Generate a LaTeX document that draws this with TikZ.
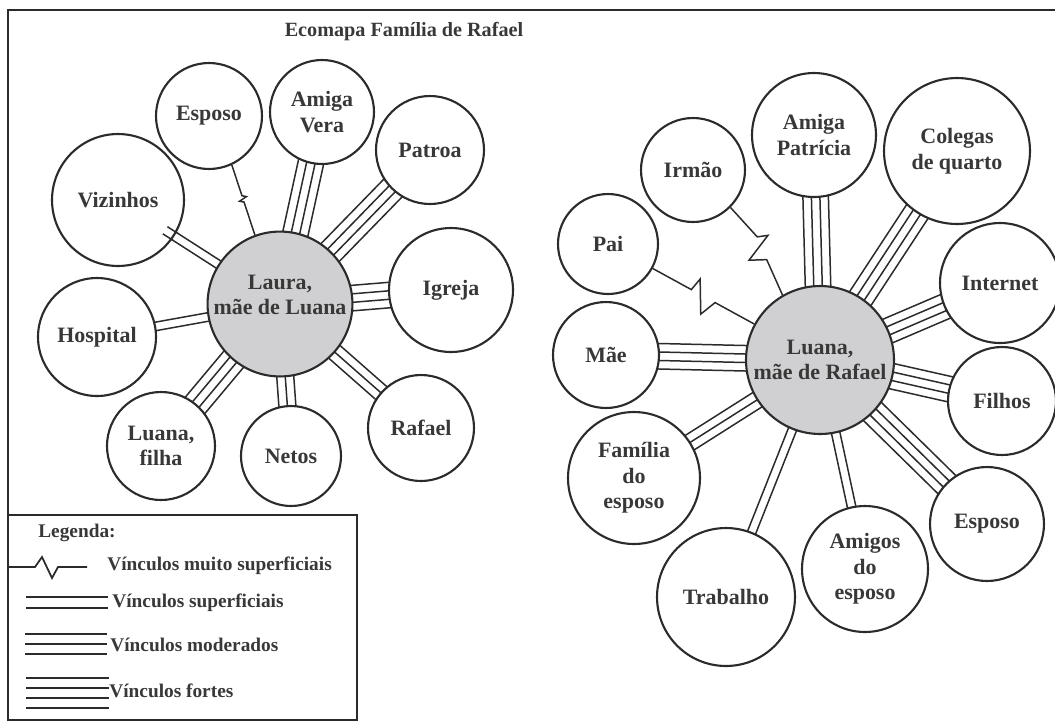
\documentclass[tikz,border=0pt]{standalone}
\usepackage{fontspec}
\setmainfont{Liberation Serif}
\usepackage{tikz}
\usetikzlibrary{calc}
\definecolor{ink}{HTML}{2B2B2B}
\definecolor{txt}{HTML}{383838}
\definecolor{hubgray}{HTML}{D0D0D2}
\newcommand{\satfont}{\fontsize{12.5}{14.5}\selectfont\bfseries}
\newcommand{\lgdfont}{\fontsize{11}{13}\selectfont\bfseries}
\pgfdeclarelayer{background}
\pgfsetlayers{background,main}
\tikzset{
  sat/.style={circle, draw=ink, line width=1.2pt, fill=white, inner sep=0pt, align=center, text=txt, font=\satfont},
  hub/.style={sat, fill=hubgray},
  rad/.style={minimum size=#1*0.4mm},
  vin/.style={draw=ink, line width=0.85pt},
  lgd/.style={anchor=west, inner sep=0pt, text=txt, font=\lgdfont},
  lgdline/.style={draw=ink, line width=1pt},
  ttl/.style={text=txt, font=\fontsize{11.5}{13}\selectfont\bfseries},
  frm/.style={draw=ink, line width=1pt}
}
% n parallel lines between two circles
\newcommand{\vinc}[3]{%
  \foreach \k in {1,...,#3}{%
    \pgfmathsetmacro{\vof}{(\k-(#3+1)/2)*0.17}%
    \draw[vin] ($(#1)!\vof cm!90:(#2)$) -- ($(#2)!\vof cm!-90:(#1)$);
  }}

\begin{document}
\begin{tikzpicture}[x=0.02cm, y=-0.02cm]
\useasboundingbox (0,0) rectangle (1055,721);
\draw[frm] (8,721) -- (8,10) -- (1055,10);
\node[ttl] (title) at (404,32) {Ecomapa Família de Rafael};

% Laura
\node[hub, rad=67] (laura) at (280,304) {Laura,\\mãe de Luana\\[-4pt]\mbox{}};
\node[sat, rad=53] (esposoL) at (209,116) {Esposo};
\node[sat, rad=52] (amigaV) at (322,112) {Amiga\\Vera};
\node[sat, rad=54] (patroa) at (430,150) {Patroa};
\node[sat, rad=66] (vizinhos) at (118,200) {Vizinhos};
\node[sat, rad=62] (igreja) at (451,290) {Igreja};
\node[sat, rad=59] (hospital) at (97,337) {Hospital};
\node[sat, rad=54] (luanaF) at (161,446) {Luana,\\filha};
\node[sat, rad=50] (netos) at (291,456) {Netos};
\node[sat, rad=53] (rafael) at (421,428) {Rafael};

% Luana
\node[hub, rad=74] (luanaR) at (820,360) {Luana,\\mãe de Rafael};
\node[sat, rad=52] (irmao) at (693,170) {Irmão};
\node[sat, rad=62] (amigaP) at (814,135) {Amiga\\Patrícia};
\node[sat, rad=73] (colegas) at (957,151) {Colegas\\de quarto};
\node[sat, rad=50] (pai) at (608,244) {Pai};
\node[sat, rad=53] (mae) at (606,355) {Mãe};
\node[sat, rad=60] (internet) at (1000,283) {Internet};
\node[sat, rad=54] (filhos) at (1002,401) {Filhos};
\node[sat, rad=66] (familia) at (634,478) {Família\\do\\esposo};
\node[sat, rad=69] (trabalho) at (726,597) {Trabalho};
\node[sat, rad=63] (amigos) at (865,569) {Amigos\\do\\esposo};
\node[sat, rad=57] (esposoR) at (987,524) {Esposo};

\begin{pgfonlayer}{background}
\vinc{laura}{amigaV}{4}
\vinc{laura}{patroa}{4}
\vinc{laura}{vizinhos}{2}
\vinc{laura}{igreja}{4}
\vinc{laura}{hospital}{2}
\vinc{laura}{luanaF}{4}
\vinc{laura}{netos}{3}
\vinc{laura}{rafael}{3}
\draw[vin] (esposoL.-65) -- ($(esposoL.-65)!0.44!(laura.110)$)
  -- ($(esposoL.-65)!0.47!(laura.110)!0.08cm!90:(laura.110)$)
  -- ($(esposoL.-65)!0.5!(laura.110)!0.08cm!-90:(laura.110)$)
  -- ($(esposoL.-65)!0.53!(laura.110)$) -- (laura.110);

\vinc{luanaR}{amigaP}{4}
\vinc{luanaR}{colegas}{4}
\vinc{luanaR}{internet}{4}
\vinc{luanaR}{filhos}{4}
\vinc{luanaR}{mae}{4}
\vinc{luanaR}{familia}{3}
\vinc{luanaR}{trabalho}{2}
\vinc{luanaR}{amigos}{2}
\vinc{luanaR}{esposoR}{4}
\draw[vin] (pai) -- ($(pai)!0.393!(luanaR)$)
  -- ($(pai)!0.404!(luanaR)!0.27cm!90:(luanaR)$)
  -- ($(pai)!0.476!(luanaR)!0.34cm!-90:(luanaR)$)
  -- ($(pai)!0.505!(luanaR)$) -- (luanaR);
\draw[vin] (irmao.-45) -- ($(irmao.-45)!0.382!(luanaR.120)!0.16cm!90:(luanaR.120)$)
  -- ($(irmao.-45)!0.423!(luanaR.120)!0.36cm!90:(luanaR.120)$)
  -- ($(irmao.-45)!0.538!(luanaR.120)!0.22cm!-90:(luanaR.120)$)
  -- ($(irmao.-45)!0.622!(luanaR.120)!0.09cm!90:(luanaR.120)$) -- (luanaR.120);
\end{pgfonlayer}
% ticks into Vizinhos
\draw[vin] ($(vizinhos)!1.12cm!(laura)!0.085cm!90:(laura)$) -- ($(vizinhos)!1.36cm!(laura)!0.085cm!90:(laura)$);
\draw[vin] ($(vizinhos)!1.12cm!(laura)!0.085cm!-90:(laura)$) -- ($(vizinhos)!1.36cm!(laura)!0.085cm!-90:(laura)$);

% legenda
\draw[frm, line width=1.5pt] (8,515) rectangle (357,720);
\node[lgd] (lgdT) at (38,533) {Legenda:};
\draw[lgdline] (8,567) -- (35,567) -- (42,557) -- (52,578) -- (58,567) -- (87,567);
\node[lgd] (lgd1) at (107,566) {Vínculos muito superficiais};
\foreach \yy in {597,608} \draw[lgdline] (26,\yy) -- (108,\yy);
\node[lgd] (lgd2) at (112,603) {Vínculos superficiais};
\foreach \yy in {634,644,654} \draw[lgdline] (25,\yy) -- (107,\yy);
\node[lgd] (lgd3) at (110,645) {Vínculos moderados};
\foreach \yy in {678,688,698,708} \draw[lgdline] (26,\yy) -- (109,\yy);
\node[lgd] (lgd4) at (109,691) {Vínculos fortes};
\end{tikzpicture}
\end{document}
